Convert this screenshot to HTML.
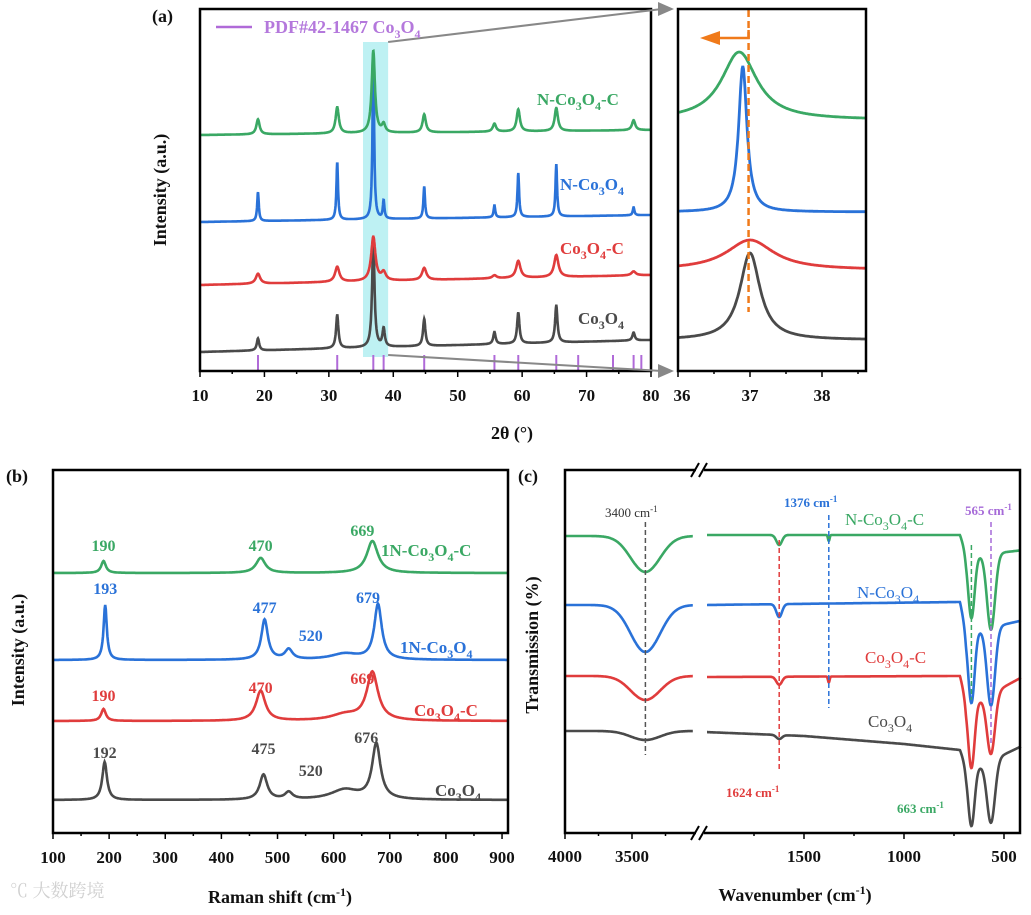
<!DOCTYPE html>
<html><head><meta charset="utf-8"><style>
html,body{margin:0;padding:0;background:#fff}
svg{display:block;font-family:"Liberation Serif","Noto Serif CJK SC",serif}
.tk{font-size:17px;font-weight:bold;fill:#111}
.ttl{font-size:18px;font-weight:bold;fill:#111}
</style></head><body>
<svg id="fig" width="1031" height="915" viewBox="0 0 1031 915" xmlns="http://www.w3.org/2000/svg">
<rect width="1031" height="915" fill="#fff"/>
<g id="pa"></g>
<g id="pz"></g>
<g id="pb"></g>
<g id="pc"></g>

<text x="152" y="22" class="ttl" font-size="21">(a)</text>
<text x="6" y="482" class="ttl" font-size="21">(b)</text>
<text x="518" y="482" class="ttl" font-size="21">(c)</text>
<line x1="216" y1="27" x2="252" y2="27" stroke="#b06ad8" stroke-width="2.5"/>
<text x="264" y="33" font-size="18" font-weight="bold" fill="#b478dc">PDF#42-1467  Co<tspan dy="5" font-size="12">3</tspan><tspan dy="-5">O</tspan><tspan dy="5" font-size="12">4</tspan></text>

<text x="537" y="105" font-size="17" font-weight="bold" fill="#3aa864">N-Co<tspan dy="5" font-size="12">3</tspan><tspan dy="-5">O</tspan><tspan dy="5" font-size="12">4</tspan><tspan dy="-5">-C</tspan></text>
<text x="560" y="190" font-size="17" font-weight="bold" fill="#2a72d8">N-Co<tspan dy="5" font-size="12">3</tspan><tspan dy="-5">O</tspan><tspan dy="5" font-size="12">4</tspan></text>
<text x="560" y="254" font-size="17" font-weight="bold" fill="#e03c3c">Co<tspan dy="5" font-size="12">3</tspan><tspan dy="-5">O</tspan><tspan dy="5" font-size="12">4</tspan><tspan dy="-5">-C</tspan></text>
<text x="578" y="324" font-size="17" font-weight="bold" fill="#4a4a4a">Co<tspan dy="5" font-size="12">3</tspan><tspan dy="-5">O</tspan><tspan dy="5" font-size="12">4</tspan></text>
<text transform="translate(166,190) rotate(-90)" text-anchor="middle" class="ttl">Intensity (a.u.)</text>
<text x="512" y="439" text-anchor="middle" class="ttl">2θ (°)</text>

<text x="381" y="556" font-size="17" font-weight="bold" fill="#3aa864">1N-Co<tspan dy="5" font-size="12">3</tspan><tspan dy="-5">O</tspan><tspan dy="5" font-size="12">4</tspan><tspan dy="-5">-C</tspan></text>
<text x="400" y="653" font-size="17" font-weight="bold" fill="#2a72d8">1N-Co<tspan dy="5" font-size="12">3</tspan><tspan dy="-5">O</tspan><tspan dy="5" font-size="12">4</tspan></text>
<text x="414" y="716" font-size="17" font-weight="bold" fill="#e03c3c">Co<tspan dy="5" font-size="12">3</tspan><tspan dy="-5">O</tspan><tspan dy="5" font-size="12">4</tspan><tspan dy="-5">-C</tspan></text>
<text x="435" y="796" font-size="17" font-weight="bold" fill="#4a4a4a">Co<tspan dy="5" font-size="12">3</tspan><tspan dy="-5">O</tspan><tspan dy="5" font-size="12">4</tspan></text>
<text transform="translate(24,650) rotate(-90)" text-anchor="middle" class="ttl">Intensity (a.u.)</text>
<text x="280" y="903" text-anchor="middle" class="ttl">Raman shift (cm<tspan dy="-7" font-size="12">-1</tspan><tspan dy="7">)</tspan></text>

<text x="605" y="517" font-size="13" fill="#333">3400 cm<tspan dy="-5" font-size="9">-1</tspan></text>
<text x="784" y="507" font-size="13" font-weight="bold" fill="#2a72d8">1376 cm<tspan dy="-5" font-size="9">-1</tspan></text>
<text x="965" y="515" font-size="13" font-weight="bold" fill="#a66ad8">565 cm<tspan dy="-5" font-size="9">-1</tspan></text>
<text x="726" y="797" font-size="13" font-weight="bold" fill="#e03c3c">1624 cm<tspan dy="-5" font-size="9">-1</tspan></text>
<text x="897" y="813" font-size="13" font-weight="bold" fill="#3aa864">663 cm<tspan dy="-5" font-size="9">-1</tspan></text>
<text x="845" y="525" font-size="17" fill="#3aa864">N-Co<tspan dy="5" font-size="12">3</tspan><tspan dy="-5">O</tspan><tspan dy="5" font-size="12">4</tspan><tspan dy="-5">-C</tspan></text>
<text x="857" y="598" font-size="17" fill="#2a72d8">N-Co<tspan dy="5" font-size="12">3</tspan><tspan dy="-5">O</tspan><tspan dy="5" font-size="12">4</tspan></text>
<text x="865" y="663" font-size="17" fill="#e03c3c">Co<tspan dy="5" font-size="12">3</tspan><tspan dy="-5">O</tspan><tspan dy="5" font-size="12">4</tspan><tspan dy="-5">-C</tspan></text>
<text x="868" y="727" font-size="17" fill="#4a4a4a">Co<tspan dy="5" font-size="12">3</tspan><tspan dy="-5">O</tspan><tspan dy="5" font-size="12">4</tspan></text>
<text transform="translate(538,645) rotate(-90)" text-anchor="middle" class="ttl">Transmission (%)</text>
<text x="795" y="901" text-anchor="middle" class="ttl">Wavenumber (cm<tspan dy="-7" font-size="12">-1</tspan><tspan dy="7">)</tspan></text>
<text x="10" y="897" font-size="18" fill="#d0d0d0">℃ 大数跨境</text>
</svg>
<script>
// ---------- Panel (a) XRD data ----------
const xrdPeakPos = [19.0, 31.3, 36.9, 38.5, 44.8, 55.7, 59.4, 65.3, 77.3];
const xrdGray  = [12, 33, 108, 18, 27, 12, 31, 37, 8];
const xrdRed   = [10, 15, 44, 8, 12, 3, 17, 22, 4];
const xrdBlue  = [29, 57, 165, 18, 32, 12, 44, 52, 8];
const xrdGreen = [15, 26, 82, 8, 18, 8, 22, 23, 10];
const xrdBaseStart = [19, 86, 149, 236];
const xrdBaseEnd   = [31, 96, 156, 241];
const xrdWidth = [0.22, 0.4, 0.15, 0.3];
const pdfRefPos = [19.0, 31.3, 36.9, 38.5, 44.8, 55.7, 59.4, 65.3, 68.7, 74.1, 77.3, 78.5];
const xTicksA = [10, 20, 30, 40, 50, 60, 70, 80];
// zoom panel
const zoomCenter = [37.0, 37.0, 36.9, 36.85];
const zoomHeight = [87, 30, 146, 68];
const zoomWidth  = [0.17, 0.4, 0.07, 0.3];
const zoomBase   = [31, 101, 159, 251];
const xTicksZ = [36, 37, 38];
// ---------- Panel (b) Raman ----------
const ramanPosGray = [192, 475, 520, 620, 676];
const ramanGray = [38, 25, 7, 10, 55];
const ramanPosRed = [190, 470, 620, 669];
const ramanRed = [12, 30, 6, 48];
const ramanPosBlue = [193, 477, 520, 620, 679];
const ramanBlue = [55, 40, 10, 6, 55];
const ramanPosGreen = [190, 470, 669];
const ramanGreen = [12, 15, 32];
const ramanBase = [33, 112, 173, 260];
const xTicksB = [100, 200, 300, 400, 500, 600, 700, 800, 900];
// ---------- Panel (c) FTIR ----------
const ftirDipPos = [3400, 1624, 1376, 663, 565];
const ftirGray  = [9, 4, 0, 60, 62];
const ftirRed   = [24, 8, 6, 68, 60];
const ftirBlue  = [47, 13, 0, 73, 78];
const ftirGreen = [36, 10, 6, 65, 76];
const ftirBaseGray  = [[4000,102],[3000,102],[2000,101],[1500,97],[1000,89],[720,83],[690,67],[620,67],[400,88]];
const ftirBaseRed   = [[4000,157],[3000,157],[2000,156],[720,157],[690,133],[620,133],[400,157]];
const ftirBaseBlue  = [[4000,228],[3000,228],[2000,228],[720,231],[690,203],[620,203],[400,213]];
const ftirBaseGreen = [[4000,297],[3000,297],[2000,298],[720,298],[690,281],[620,278],[400,283]];
const xTicksCL = [4000, 3500];
const xTicksCR = [1500, 1000, 500];

const NS = "http://www.w3.org/2000/svg";
const COL = ["#4a4a4a", "#e03c3c", "#2a72d8", "#3aa864"];
function mk(parent, tag, attrs) { const e = document.createElementNS(NS, tag); for (const k in attrs) e.setAttribute(k, attrs[k]); parent.appendChild(e); return e; }
function lor(x, c, h, w) { return h / (1 + ((x - c) / w) ** 2); }

const BOT = 833;
const xA = v => 200 + (v - 10) * 451 / 70, yA = v => 371 - v;
const xZ = v => 678 + (v - 36) * 72;
const xB = v => 53 + (v - 100) * 0.5613, yB = v => BOT - v;
const xC = w => w >= 2990 ? 565 + (4000 - w) * 0.134 : 704 + (2000 - w) * 0.2, yC = v => BOT - v;

// ===== Panel a =====
const pa = document.getElementById('pa');
const band = mk(pa, 'rect', {x: xA(35.3), y: 42, width: xA(39.2) - xA(35.3), height: 357 - 42, fill: '#aeeef0', opacity: 0.8});


const seriesA = [xrdGray, xrdRed, xrdBlue, xrdGreen];
const namesA = ['co3o4', 'co3o4-c', 'n-co3o4', 'n-co3o4-c'];
seriesA.forEach((hs, s) => {
  let d = '';
  for (let x = 10; x <= 80.001; x += 0.04) {
    let v = xrdBaseStart[s] + (xrdBaseEnd[s] - xrdBaseStart[s]) * (x - 10) / 70;
    for (let i = 0; i < xrdPeakPos.length; i++) v += lor(x, xrdPeakPos[i], hs[i], xrdWidth[s]);
    d += (d ? 'L' : 'M') + xA(x).toFixed(1) + ',' + yA(v).toFixed(1);
  }
  const p = mk(pa, 'path', {d, fill: 'none', stroke: COL[s], 'stroke-width': 2.6});
  
  
});
pdfRefPos.forEach(v => {
  const l = mk(pa, 'line', {x1: xA(v), x2: xA(v), y1: 355, y2: 371, stroke: '#b06ad8', 'stroke-width': 2});
  
  
});
const boxA = mk(pa, 'rect', {x: 200, y: 9, width: 451, height: 362, fill: 'none', stroke: '#000', 'stroke-width': 2.5});


for (let v = 10; v <= 80; v += 5) {
  const major = v % 10 === 0;
  const t = mk(pa, 'line', {x1: xA(v), x2: xA(v), y1: 371, y2: 371 + (major ? 6 : 3), stroke: '#000', 'stroke-width': 1.5});
  
  
}
xTicksA.forEach(v => {
  const t = mk(pa, 'text', {x: xA(v), y: 401, 'text-anchor': 'middle', class: 'tk'});
  t.textContent = v;
  
  
});
[[xA(39.2), 42, 674, 9], [xA(39.2), 355, 674, 371]].forEach(c => {
  const l = mk(pa, 'line', {x1: c[0], y1: c[1], x2: c[2] - 12, y2: c[3], stroke: '#888', 'stroke-width': 2});
  
  
  const a = mk(pa, 'polygon', {points: `${c[2]},${c[3]} ${c[2]-16},${c[3]-7} ${c[2]-16},${c[3]+7}`, fill: '#888'});
  
  
});

// ===== Zoom panel =====
const pz = document.getElementById('pz');
zoomCenter.forEach((c, s) => {
  let d = '';
  for (let x = 36; x <= 38.6; x += 0.01) {
    const v = zoomBase[s] + lor(x, c, zoomHeight[s], zoomWidth[s]);
    d += (d ? 'L' : 'M') + xZ(x).toFixed(1) + ',' + yA(v).toFixed(1);
  }
  const p = mk(pz, 'path', {d, fill: 'none', stroke: COL[s], 'stroke-width': 2.8});
  
  
});
const od = mk(pz, 'line', {x1: xZ(36.98), x2: xZ(36.98), y1: 10, y2: 312, stroke: '#f07a1a', 'stroke-width': 2.5, 'stroke-dasharray': '7,4'});


const ar = mk(pz, 'path', {d: `M${xZ(36.98)},30 V38 H718`, fill: 'none', stroke: '#f07a1a', 'stroke-width': 2.5});


const ah = mk(pz, 'polygon', {points: '700,38 720,31 720,45', fill: '#f07a1a'});


const boxZ = mk(pz, 'rect', {x: 678, y: 9, width: 188, height: 362, fill: 'none', stroke: '#000', 'stroke-width': 2.5});


for (let v = 36; v <= 38.5; v += 0.5) {
  const t = mk(pz, 'line', {x1: xZ(v), x2: xZ(v), y1: 371, y2: 371 + (v % 1 === 0 ? 6 : 3), stroke: '#000', 'stroke-width': 1.5});
  
  
}
xTicksZ.forEach(v => {
  const t = mk(pz, 'text', {x: xZ(v) + (v === 36 ? 4 : 0), y: 401, 'text-anchor': 'middle', class: 'tk'});
  t.textContent = v;
  
  
});

// ===== Panel b =====
const pb = document.getElementById('pb');
const posB = [ramanPosGray, ramanPosRed, ramanPosBlue, ramanPosGreen];
const hB = [ramanGray, ramanRed, ramanBlue, ramanGreen];
const wB = { 192: 5, 190: 5, 193: 3.5, 475: 8, 470: 10, 477: 7, 520: 8, 620: 30, 676: 9, 669: 12, 679: 8 };
const namesB = ['co3o4', 'co3o4-c', '1n-co3o4', '1n-co3o4-c'];
hB.forEach((hs, s) => {
  let d = '';
  for (let x = 100; x <= 910; x += 1) {
    let v = ramanBase[s];
    for (let i = 0; i < hs.length; i++) v += lor(x, posB[s][i], hs[i], wB[posB[s][i]]);
    d += (d ? 'L' : 'M') + xB(x).toFixed(1) + ',' + yB(v).toFixed(1);
  }
  const p = mk(pb, 'path', {d, fill: 'none', stroke: COL[s], 'stroke-width': 2.6});
  
  
});
const ramanLabelText = [['192','475','520','676'],['190','470','669'],['193','477','520','679'],['190','470','669']];
const ramanLabelPos  = [[192,475,520,676],[190,470,669],[193,477,520,679],[190,470,669]];
const ramanLabelY    = [[758,754,776,743],[701,693,684],[594,613,641,603],[551,551,536]];
ramanLabelText.forEach((arr, s) => arr.forEach((tx, i) => {
  const off = (tx === '520') ? 22 : (tx === '676' || tx === '669' || tx === '679') ? -10 : 0;
  const t = mk(pb, 'text', {x: xB(ramanLabelPos[s][i]) + off, y: ramanLabelY[s][i], 'text-anchor': 'middle', 'font-size': 16, 'font-weight': 'bold', fill: COL[s]});
  t.textContent = tx;
  
  
}));
const boxB = mk(pb, 'rect', {x: 53, y: 470, width: 455, height: BOT - 470, fill: 'none', stroke: '#000', 'stroke-width': 2.5});


for (let v = 100; v <= 900; v += 50) {
  const t = mk(pb, 'line', {x1: xB(v), x2: xB(v), y1: BOT, y2: BOT + (v % 100 === 0 ? 6 : 3), stroke: '#000', 'stroke-width': 1.5});
  
  
}
xTicksB.forEach(v => {
  const t = mk(pb, 'text', {x: xB(v), y: 863, 'text-anchor': 'middle', class: 'tk'});
  t.textContent = v;
  
  
});

// ===== Panel c =====
const pc = document.getElementById('pc');
const hC = [ftirGray, ftirRed, ftirBlue, ftirGreen];
const baseC = [ftirBaseGray, ftirBaseRed, ftirBaseBlue, ftirBaseGreen];
const sigC = [110, 14, 4, 16, 20];
function interpBase(b, w) {
  for (let i = 0; i < b.length - 1; i++) if (w <= b[i][0] && w >= b[i + 1][0]) { const t = (b[i][0] - w) / (b[i][0] - b[i + 1][0]); return b[i][1] + t * (b[i + 1][1] - b[i][1]); }
  return b[b.length - 1][1];
}
const namesC = ['co3o4', 'co3o4-c', 'n-co3o4', 'n-co3o4-c'];
hC.forEach((hs, s) => {
  let d = '';
  const pts = [];
  for (let w = 4000; w >= 3045; w -= 3) pts.push(w);
  pts.push(null);
  for (let w = 1985; w >= 415; w -= 1.5) pts.push(w);
  let start = true;
  pts.forEach(w => {
    if (w === null) { start = true; return; }
    let v = interpBase(baseC[s], w);
    for (let i = 0; i < hs.length; i++) v -= hs[i] * Math.exp(-((w - ftirDipPos[i]) ** 2) / (2 * sigC[i] ** 2));
    d += (start ? 'M' : 'L') + xC(w).toFixed(1) + ',' + yC(v).toFixed(1);
    start = false;
  });
  const p = mk(pc, 'path', {d, fill: 'none', stroke: COL[s], 'stroke-width': 2.6});
  
  
});
const dashPos = [3400, 1624, 1376, 565, 663];
const dashY1 = [522, 540, 515, 522, 545];
const dashY2 = [755, 772, 708, 745, 700];
const dashCol = ['#555', '#e03c3c', '#2a72d8', '#a66ad8', '#3aa864'];
dashPos.forEach((w, i) => {
  const l = mk(pc, 'line', {x1: xC(w), x2: xC(w), y1: dashY1[i], y2: dashY2[i], stroke: dashCol[i], 'stroke-width': 1.5, 'stroke-dasharray': '5,3'});
  
  
});
const boxC = mk(pc, 'path', {d: `M696,470 H565 V${BOT} H696 M704,${BOT} H1020 V470 H704`, fill: 'none', stroke: '#000', 'stroke-width': 2.5});


[470, BOT].forEach(y => {
  const b = mk(pc, 'path', {d: `M691,${y+7} L699,${y-7} M699,${y+7} L707,${y-7}`, stroke: '#000', 'stroke-width': 2, fill: 'none'});
  
  
});
[4000, 3750, 3500, 3250, 1750, 1500, 1250, 1000, 750, 500].forEach(w => {
  const major = w % 500 === 0;
  const t = mk(pc, 'line', {x1: xC(w), x2: xC(w), y1: BOT, y2: BOT + (major ? 6 : 3), stroke: '#000', 'stroke-width': 1.5});
  
  
});
xTicksCL.concat(xTicksCR).forEach(w => {
  const t = mk(pc, 'text', {x: xC(w), y: 862, 'text-anchor': 'middle', class: 'tk'});
  t.textContent = w;
  
  
});
</script>
</body></html>
